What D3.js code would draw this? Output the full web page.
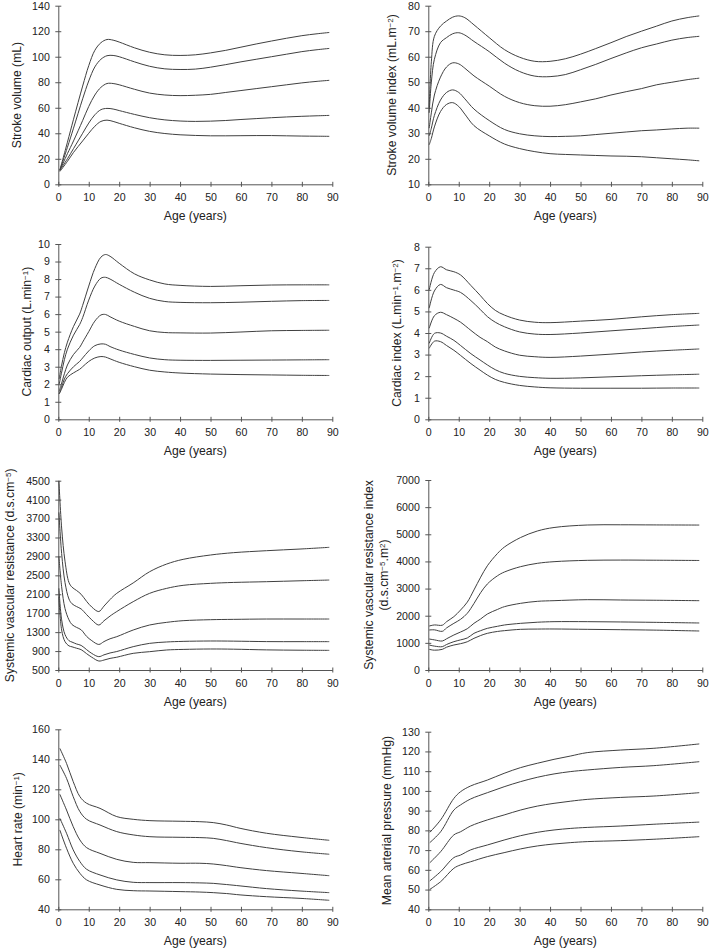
<!DOCTYPE html>
<html><head><meta charset="utf-8">
<script src="https://cdn.jsdelivr.net/npm/d3@7"></script>
<style>
html,body{margin:0;padding:0;background:#fff;}
svg{display:block;font-family:"Liberation Sans",Arial,sans-serif;}
</style></head><body>
<svg id="c" width="709" height="948"></svg>
<script>
// ---------- DATA (5 centile curves per panel, bottom -> top) ----------
const xTicks = [0,10,20,30,40,50,60,70,80,90];

// Stroke volume (mL)
const svAge = [0.5,3,5,8,10,12,14,16,18,20,25,30,35,40,45,50,55,60,65,70,75,80,85,89];
const sv1 = [10,18,25,34,40,45.5,49.3,50.3,49.3,47.8,44.3,41.5,39.8,38.8,38.3,38,38,38.1,38.2,38.2,38,37.8,37.7,37.6];
const sv2 = [11,20,28,40,48,54.5,58.5,59.5,59,57.8,54.8,52.2,50.5,49.6,49.3,49.5,50,50.8,51.5,52.2,52.8,53.3,53.7,54];
const sv3 = [11,24,34,50,61,70,76,79,79,78,74.5,71.5,70,69.5,69.8,70.5,72,73.5,75,76.5,78,79.5,80.7,81.5];
const sv4 = [11,29,44,67,81,92,98,100.8,101,100,96,92.5,90.5,90,90.3,91.8,93.8,96,98,100,102,104,105.5,106.5];
const sv5 = [11,33,51,77,93,105,111,113.5,113,111.5,107,103.5,101.5,101,101.5,103,105,107.5,110,112.3,114.5,116.5,118,119];
const svTicks = [0,20,40,60,80,100,120,140];

// Stroke volume index (mL.m-2)
const sviAge = [0.3,1,2,4,6,8,10,12,15,20,25,30,35,40,45,50,55,60,65,70,75,80,85,89];
const svi1 = [25.5,28,32.5,38.5,41.3,42,40.5,37.5,33,29,25.8,24,22.8,22,21.7,21.5,21.3,21.1,21,20.8,20.4,20,19.6,19.2];
const svi2 = [29,32,37,43,46,47,46,43.5,39.5,35,31.5,29.8,29,28.7,28.8,29,29.5,30,30.5,31,31.3,31.7,32,32];
const svi3 = [32,38,45,52,56,57.6,57.2,55.5,52.5,48.5,44.5,42,40.8,40.6,41.2,42.3,43.5,45,46.3,47.5,49,50,51,51.6];
const svi4 = [38,50,59,65.5,67.5,69,69.4,68.5,66,62,57.5,54.2,52.4,52.2,53,54.9,57,59.3,61.5,63.5,65,66.5,67.5,68];
const svi5 = [40,58,68,72,74,75.5,76,75.3,72.5,67.5,62.8,59.8,58.2,58.2,59.2,61,63.2,65.5,67.9,70,72,74,75.3,76];
const sviTicks = [10,20,30,40,50,60,70,80];

// Cardiac output (L.min-1)
const coAge = [0.3,1,2,3,5,7,8,10,12,14,15.5,17,20,25,30,35,40,50,60,70,80,89];
const co1 = [1.45,1.7,2.1,2.4,2.65,2.85,3.0,3.3,3.5,3.58,3.55,3.45,3.25,3.0,2.8,2.7,2.64,2.58,2.55,2.53,2.51,2.5];
const co2 = [1.45,1.8,2.3,2.6,3.0,3.3,3.5,3.9,4.2,4.3,4.28,4.15,3.95,3.7,3.5,3.4,3.37,3.36,3.37,3.38,3.39,3.4];
const co3 = [1.6,2.0,2.6,3.1,3.7,4.1,4.4,5.0,5.6,5.95,5.98,5.85,5.6,5.3,5.05,4.95,4.93,4.92,4.98,5.05,5.07,5.08];
const co4 = [2.0,2.6,3.4,4.0,4.8,5.4,5.8,6.8,7.6,8.05,8.1,8.0,7.7,7.25,6.9,6.72,6.67,6.65,6.68,6.73,6.77,6.78];
const co5 = [2.3,3.0,3.8,4.4,5.3,6.0,6.5,7.6,8.6,9.25,9.4,9.3,8.9,8.3,7.95,7.72,7.64,7.58,7.62,7.66,7.67,7.67];
const coTicks = [0,1,2,3,4,5,6,7,8,9,10];

// Cardiac index (L.min-1.m-2)
const ciAge = [0.3,2,4,6,8.4,10.6,14,17,19.4,22,25,30,35,40,50,60,70,80,89];
const ci1 = [3.29,3.62,3.6,3.42,3.2,2.96,2.58,2.28,2.05,1.85,1.71,1.57,1.5,1.46,1.44,1.44,1.44,1.45,1.45];
const ci2 = [3.52,3.98,4.0,3.85,3.66,3.42,3.04,2.75,2.52,2.3,2.13,1.99,1.93,1.9,1.92,1.97,2.02,2.06,2.09];
const ci3 = [4.22,4.8,4.96,4.85,4.68,4.5,4.12,3.8,3.6,3.35,3.17,2.97,2.9,2.87,2.93,3.02,3.12,3.2,3.26];
const ci4 = [5.15,5.95,6.25,6.1,5.99,5.88,5.5,5.1,4.76,4.5,4.29,4.05,3.95,3.93,4.0,4.1,4.2,4.3,4.37];
const ci5 = [6.0,6.8,7.07,6.93,6.84,6.69,6.2,5.75,5.37,5.05,4.83,4.6,4.5,4.48,4.55,4.63,4.75,4.85,4.91];
const ciTicks = [0,1,2,3,4,5,6,7,8];

// Systemic vascular resistance (d.s.cm-5)
const svrAge = [0.2,1.1,2.2,3.5,4.5,6,7.5,9.3,11,13.3,15,17,19.2,24.6,30,35.6,41,50,57.5,68.4,79.4,89];
const svr1 = [2050,1345,1100,1010,990,960,930,845,770,690,710,745,770,852,887,923,935,944,940,925,918,915];
const svr2 = [2225,1560,1250,1120,1090,1050,1020,930,850,782,820,860,890,993,1063,1092,1105,1113,1110,1100,1099,1099];
const svr3 = [2900,2260,1800,1560,1460,1400,1350,1210,1120,1040,1100,1160,1204,1345,1451,1507,1542,1563,1570,1577,1577,1577];
const svr4 = [3830,2960,2350,2000,1900,1840,1790,1670,1560,1450,1540,1640,1735,1944,2120,2225,2289,2331,2350,2366,2385,2401];
const svr5 = [4500,3500,2800,2350,2250,2180,2100,1950,1830,1735,1850,1990,2120,2340,2577,2739,2838,2930,2979,3021,3056,3092];
const svrTicks = [500,900,1300,1700,2100,2500,2900,3300,3700,4100,4500];

// Systemic vascular resistance index (d.s.cm-5.m2)
const svriAge = [0.3,2,4.6,6,8.4,10.6,12.8,15,17.2,19.4,22.7,25,30.3,35.8,41.3,52.2,63.2,74.1,89];
const svri1 = [761,730,761,840,921,970,1040,1167,1270,1351,1420,1449,1498,1508,1511,1498,1485,1470,1437];
const svri2 = [921,880,860,940,1044,1110,1180,1351,1450,1535,1610,1658,1719,1760,1781,1781,1770,1756,1732];
const svri3 = [1142,1110,1068,1150,1290,1400,1520,1719,1880,2063,2230,2333,2456,2530,2554,2591,2579,2570,2554];
const svri4 = [1474,1480,1425,1550,1719,1867,2088,2450,2850,3170,3470,3610,3807,3930,3991,4040,4050,4045,4035];
const svri5 = [1620,1660,1650,1780,1965,2210,2500,2950,3420,3840,4290,4530,4880,5120,5250,5342,5350,5345,5340];
const svriTicks = [0,1000,2000,3000,4000,5000,6000,7000];

// Heart rate (min-1)
const hrAge = [0.5,2.7,4.9,7.1,9.3,13.7,19.2,24.6,30.1,40,46.5,50.9,55.3,59.7,68.4,79.4,89];
const hr1 = [92.9,80.7,70.7,64,59.6,56.2,53.3,52.4,52.2,51.8,51.5,51.1,50.5,49.6,48.4,47.3,46];
const hr2 = [100.7,90.7,79.6,71.8,66.7,62.9,59.6,58,57.8,57.8,57.6,57.3,56.5,55.6,53.8,52.2,51.1];
const hr3 = [116.7,106.2,95.1,86.2,81.1,77.3,73.3,71.3,71.1,70.7,70.7,70.2,69.1,67.8,65.8,64,62.4];
const hr4 = [136.2,127.3,115.1,105.1,100,96.2,91.8,89.6,88.4,88,87.8,87.3,85.8,84,81.1,78.4,76.7];
const hr5 = [147.3,137.3,125.1,115.1,110.7,107.3,101.8,100,99.1,98.7,98.4,97.8,96.2,94,90.7,88,86];
const hrTicks = [40,60,80,100,120,140,160];

// Mean arterial pressure (mmHg)
const mapAge = [0.5,4.05,8.4,10.6,13.9,19.4,24.9,30.3,35.8,41.3,46.8,52.2,63.2,74.1,89];
const map1 = [50.1,54,60.8,62.5,64.1,66.7,68.7,70.6,72.1,73.1,73.8,74.3,74.8,75.5,76.8];
const map2 = [54.4,59.1,66.2,67.5,70.1,72.6,75.1,77.3,79,80.2,81,81.5,82.2,83.1,84.2];
const map3 = [63.6,69.2,77.7,79.3,82.2,85.3,87.8,90.3,92.3,93.7,94.8,95.7,96.7,97.4,99.1];
const map4 = [73.8,79.3,90.3,92.9,95.9,99.1,102.1,104.7,106.9,108.6,109.8,110.6,111.9,112.8,114.8];
const map5 = [79,85.3,96.2,99.6,102.5,105.5,108.9,111.8,114,116,117.7,119.4,120.7,121.6,123.8];
const mapTicks = [40,50,60,70,80,90,100,110,120,130];

// ---------- PANELS ----------
const panels = [
  {age:svAge, series:[sv1,sv2,sv3,sv4,sv5], ticks:svTicks, L:58.3, T:5.7, B:184.3,
   label:[["Stroke volume (mL)"]], lx:17},
  {age:sviAge, series:[svi1,svi2,svi3,svi4,svi5], ticks:sviTicks, L:428.3, T:5.7, B:184.3,
   label:[["Stroke volume index (mL.m",["−2"],")"]], lx:392},
  {age:coAge, series:[co1,co2,co3,co4,co5], ticks:coTicks, L:58.3, T:244, B:419.3,
   label:[["Cardiac output (L.min",["−1"],")"]], lx:27},
  {age:ciAge, series:[ci1,ci2,ci3,ci4,ci5], ticks:ciTicks, L:428.3, T:246.7, B:419.3,
   label:[["Cardiac index (L.min",["−1"],".m",["−2"],")"]], lx:397},
  {age:svrAge, series:[svr1,svr2,svr3,svr4,svr5], ticks:svrTicks, L:58.3, T:480.7, B:670,
   label:[["Systemic vascular resistance (d.s.cm",["−5"],")"]], lx:10},
  {age:svriAge, series:[svri1,svri2,svri3,svri4,svri5], ticks:svriTicks, L:428.3, T:480, B:670,
   label:[["Systemic vascular resistance index"],["(d.s.cm",["−5"],".m",["2"],")"]], lx:369, lx2:384},
  {age:hrAge, series:[hr1,hr2,hr3,hr4,hr5], ticks:hrTicks, L:58.3, T:729.3, B:909.3,
   label:[["Heart rate (min",["−1"],")"]], lx:18},
  {age:mapAge, series:[map1,map2,map3,map4,map5], ticks:mapTicks, L:428.3, T:731.7, B:909.3,
   label:[["Mean arterial pressure (mmHg)"]], lx:387}
];

const svg = d3.select("#c");
const axisColor = "#555";
const lineColor = "#404040";
const textColor = "#222";
const W = 274;

panels.forEach(p => {
  const x = d3.scaleLinear().domain([0,90]).range([p.L, p.L + W]);
  const y = d3.scaleLinear().domain([p.ticks[0], p.ticks[p.ticks.length-1]]).range([p.B, p.T]);
  const g = svg.append("g");

  // x axis
  const xa = g.append("g").attr("transform", `translate(0,${p.B})`)
    .call(d3.axisBottom(x).tickValues(xTicks).tickFormat(d3.format("d")).tickSizeOuter(0).tickSizeInner(3));
  xa.selectAll(".tick line").attr("y1", -2.5).attr("y2", 2.5);
  xa.selectAll(".tick text").attr("y", 9.5);

  // y axis
  const ya = g.append("g").attr("transform", `translate(${p.L},0)`)
    .call(d3.axisLeft(y).tickValues(p.ticks).tickFormat(d3.format("d")).tickSizeOuter(0).tickSizeInner(3));
  ya.selectAll(".tick line").attr("x1", -3).attr("x2", 3);
  ya.selectAll(".tick text").attr("x", -8.5);

  [xa, ya].forEach(a => {
    a.select(".domain").attr("stroke", axisColor).attr("stroke-width", 1);
    a.selectAll(".tick line").attr("stroke", axisColor).attr("stroke-width", 1);
    a.selectAll(".tick text").attr("fill", textColor)
      .style("font-family", '"Liberation Sans", Arial, sans-serif').style("font-size", "10.6px");
  });

  // curves
  const line = d3.line().x((d,i) => x(p.age[i])).y(d => y(d)).curve(d3.curveCatmullRom.alpha(0.5));
  p.series.forEach(s => {
    g.append("path").attr("d", line(s)).attr("fill", "none")
      .attr("stroke", lineColor).attr("stroke-width", 1);
  });

  // x label
  g.append("text").attr("x", p.L + W/2).attr("y", p.B + 36)
    .attr("text-anchor", "middle").attr("fill", textColor)
    .style("font-size", "12.2px").text("Age (years)");

  // y label (rotated, with superscripts)
  const cy = (p.T + p.B) / 2;
  p.label.forEach((parts, li) => {
    const lx = li === 0 ? p.lx : p.lx2;
    const t = g.append("text")
      .attr("transform", `translate(${lx},${cy}) rotate(-90)`)
      .attr("text-anchor", "middle").attr("dy", "0.35em")
      .attr("fill", textColor).style("font-size", "12.2px");
    let up = false;
    parts.forEach(part => {
      if (Array.isArray(part)) {
        t.append("tspan").attr("dy", "-0.42em").style("font-size", "8px").text(part[0]);
        up = true;
      } else {
        const ts = t.append("tspan").text(part);
        if (up) { ts.attr("dy", "0.28em"); up = false; }
      }
    });
  });
});
</script>
</body></html>
